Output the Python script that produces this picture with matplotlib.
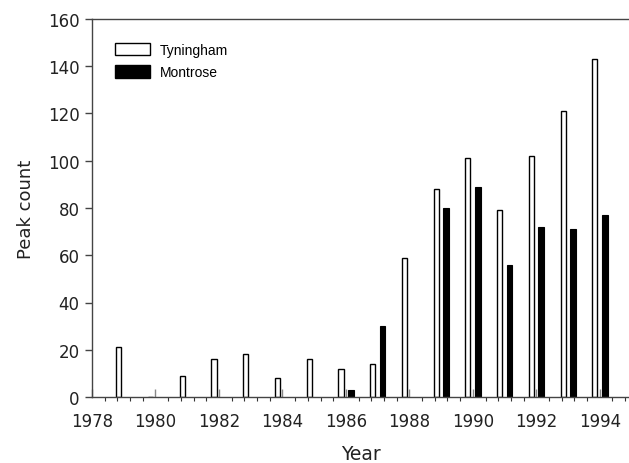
import matplotlib
matplotlib.use("Agg")
import matplotlib.pyplot as plt
from matplotlib.ticker import MultipleLocator
from matplotlib.patches import Patch

years = [1979, 1980, 1981, 1982, 1983, 1984, 1985, 1986, 1987, 1988,
         1989, 1990, 1991, 1992, 1993, 1994]
tyningham = [21, 0, 9, 16, 18, 8, 16, 12, 14, 59, 88, 101, 79, 102, 121, 143]
montrose = [0, 0, 0, 0, 0, 0, 0, 3, 30, 0, 80, 89, 56, 72, 71, 77]
series_names = ["Tyningham", "Montrose"]

plt.rcParams['font.family'] = ['DejaVu Sans']

fig = plt.figure(figsize=(6.29, 4.64), dpi=100)
ax = fig.add_axes([92/629, 1 - 398/464, 1 - 92/629, (398 - 20)/464])

w = 0.16
x_t = [y - 0.155 for y in years]
x_m = [y + 0.155 for y in years]
ax.bar(x_t, tyningham, width=w, color="white", edgecolor="black", linewidth=1.0)
ax.bar([x for x, v in zip(x_m, montrose) if v > 0], [v for v in montrose if v > 0],
       width=w + 0.02, color="black", edgecolor="black", linewidth=0.8)

ax.set_xlim(1978, 1994.92)
ax.set_ylim(0, 160)
ax.xaxis.set_major_locator(MultipleLocator(2))
ax.xaxis.set_minor_locator(MultipleLocator(0.4))
ax.yaxis.set_major_locator(MultipleLocator(20))

spine_col = "#444444"
for s in ["left", "bottom", "top"]:
    ax.spines[s].set_color(spine_col)
    ax.spines[s].set_linewidth(1.0)
ax.spines["right"].set_visible(False)

ax.tick_params(axis="x", which="major", direction="in", length=6, width=1,
               color="#888888", labelsize=12, pad=11, labelcolor="#222222")
ax.tick_params(axis="x", which="minor", direction="out", length=3, width=0.8,
               color="#333333")
ax.tick_params(axis="y", which="major", direction="out", length=5, width=1,
               color=spine_col, labelsize=12, pad=4, labelcolor="#222222")

ax.set_xlabel("Year", fontsize=13.5, labelpad=10, color="#222222")
ax.set_ylabel("Peak count", fontsize=13, labelpad=9, color="#222222")

handles = [Patch(facecolor="white", edgecolor="black", linewidth=1.0),
           Patch(facecolor="black", edgecolor="black")]
ax.legend(handles, series_names, loc="upper left", frameon=False,
          bbox_to_anchor=(0.02, 0.97), handlelength=2.5,
          handleheight=1.0, handletextpad=0.7, labelspacing=0.6,
          prop={'family': 'Liberation Sans', 'size': 10})

fig.savefig("out.png", dpi=100)
